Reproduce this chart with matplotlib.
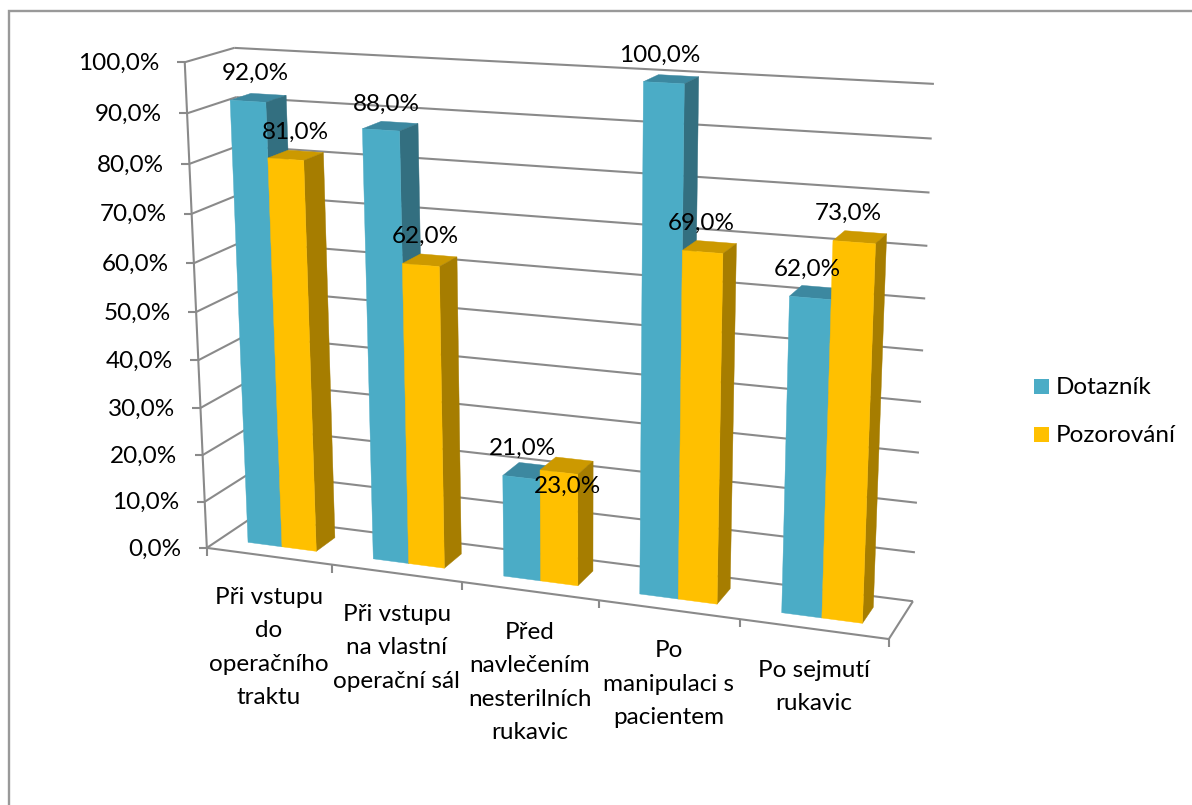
"""
Two series 3D style bar chart, drawn with a small perspective projection.
"""

import numpy as np
import matplotlib
matplotlib.use('Agg')
import matplotlib.pyplot as plt
from matplotlib.patches import Polygon, Rectangle

categories = [
    ['Při vstupu', 'do', 'operačního', 'traktu'],
    ['Při vstupu', 'na vlastní', 'operační sál'],
    ['Před', 'navlečením', 'nesterilních', 'rukavic'],
    ['Po', 'manipulaci s', 'pacientem'],
    ['Po sejmutí', 'rukavic'],
]
series_names = ['Dotazník', 'Pozorování']
dotaznik = [92, 88, 21, 100, 62]
pozorovani = [81, 62, 23, 69, 73]
value_ticks = [0, 10, 20, 30, 40, 50, 60, 70, 80, 90, 100]

# front, top, side shades per series
shades = [('#4BACC6', '#3C88A0', '#336F80'), ('#FFC000', '#CC9900', '#A67D00')]
grid_color = '#8A8A8A'
font = 'Lato'
font_size = 17.5

# calibration of the view: (category, depth, value) -> pixel
calib = [
    (0, 0, 0, 206, 547), (1, 0, 0, 332, 565), (3, 0, 0, 598, 602), (5, 0, 0, 889, 638),
    (5, 1, 0, 913, 601), (0, 1, 0, 254, 517), (0, 0, 100, 186, 62),
    (0, 1, 100, 233, 48), (5, 1, 100, 934, 84),
]
rows = []
for x, d, v, px, py in calib:
    p = [x, d, v / 100, 1]
    rows.append(p + [0, 0, 0, 0] + [-px * c for c in p])
    rows.append([0, 0, 0, 0] + p + [-py * c for c in p])
camera = np.linalg.svd(np.array(rows, dtype=float))[2][-1].reshape(3, 4)


def project(x, d, v):
    u = camera @ np.array([x, d, v / 100, 1.0])
    return u[0] / u[2], u[1] / u[2]


def line(ax, a, b):
    ax.plot(*zip(a, b), color=grid_color, lw=1.5, solid_capstyle='butt', zorder=1)


def draw_bar(ax, x0, x1, value, colors, z):
    d0, d1 = 0.29, 0.72
    faces = [
        (colors[1], [(x0, d0, value), (x1, d0, value), (x1, d1, value), (x0, d1, value)]),
        (colors[2], [(x1, d0, 0), (x1, d1, 0), (x1, d1, value), (x1, d0, value)]),
        (colors[0], [(x0, d0, 0), (x1, d0, 0), (x1, d0, value), (x0, d0, value)]),
    ]
    for color, pts in faces:
        ax.add_patch(Polygon([project(*p) for p in pts], closed=True, facecolor=color,
                             edgecolor=color, lw=0.3, zorder=z))


fig = plt.figure(figsize=(11.92, 8.05), dpi=100)
ax = fig.add_axes([0, 0, 1, 1])
ax.set_xlim(0, 1192)
ax.set_ylim(805, 0)
ax.axis('off')

# chart border, only the top and left edges fall inside the picture
ax.plot([8.5, 8.5, 1192], [805, 11, 11], color='#999999', lw=1.7, solid_joinstyle='miter', zorder=0)

# walls and floor
for v in value_ticks:
    line(ax, project(0, 0, v), project(0, 1, v))
    line(ax, project(0, 1, v), project(5, 1, v))
    front = project(0, 0, v)
    line(ax, front, (front[0] - 8, front[1]))
    ax.text(front[0] - 25, front[1] + 1, f'{v},0%', ha='right', va='center',
            family=font, fontsize=font_size, color='black', zorder=5)
line(ax, project(0, 0, 0), project(0, 0, 100))
line(ax, project(0, 0, 0), project(5, 0, 0))
line(ax, project(5, 0, 0), project(5, 1, 0))
for i in range(6):
    base = project(i, 0, 0)
    line(ax, base, (base[0], base[1] + 8))

# bars, left to right so later fronts cover earlier sides
gap = 0.225
for i in range(len(categories)):
    draw_bar(ax, i + gap, i + 0.5, dotaznik[i], shades[0], 2 + i * 2)
    draw_bar(ax, i + 0.5, i + 1 - gap, pozorovani[i], shades[1], 3 + i * 2)

# value labels, offset from the top of the bar
nudge_a = [(7, -28), (5, -26), (1, -29), (-4, -27), (-3, -29)]
nudge_b = [(10, -27), (5, -29), (9, 14), (-1, -29), (-6, -29)]
for i in range(len(categories)):
    for vals, xc, nudges in ((dotaznik, i + (gap + 0.5) / 2, nudge_a),
                             (pozorovani, i + (1.5 - gap) / 2, nudge_b)):
        px, py = project(xc, 0.29, vals[i])
        ax.text(px + nudges[i][0], py + nudges[i][1], f'{vals[i]},0%', ha='center', va='center',
                family=font, fontsize=font_size, color='black', zorder=30)

# category labels
for i, lines in enumerate(categories):
    px, py = project(i + 0.5, 0, 0)
    for k, text in enumerate(lines):
        ax.text(px, py + 41 + k * 33.5, text, ha='center', va='center',
                family=font, fontsize=font_size, color='black', zorder=5)

# legend
for k, name in enumerate(series_names):
    y = 379 + k * 48
    ax.add_patch(Rectangle((1034, y), 15, 15, facecolor=shades[k][0], edgecolor='none'))
    ax.text(1056, y + 8, name, ha='left', va='center', family=font,
            fontsize=font_size, color='black')

fig.savefig('out.png', dpi=100)
